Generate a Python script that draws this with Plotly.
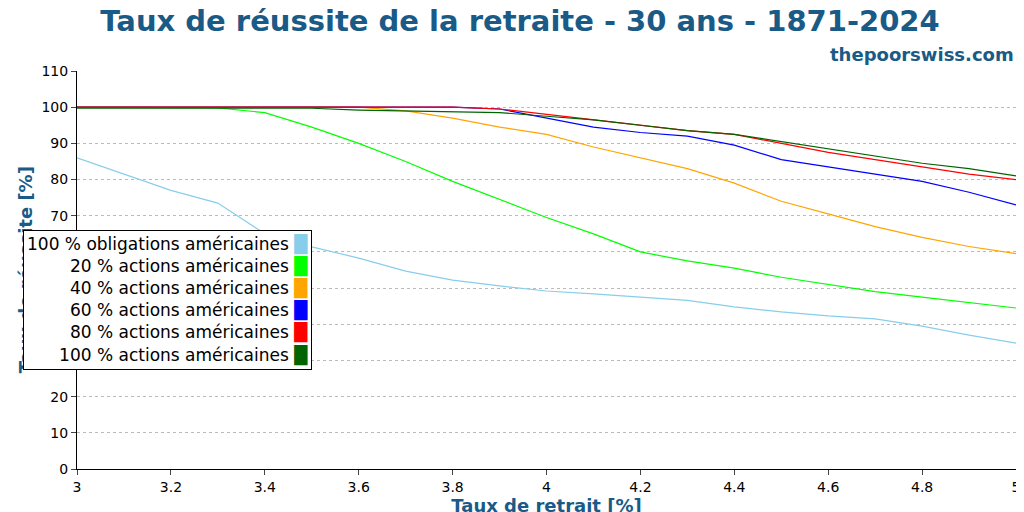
import plotly.graph_objects as go

# Withdrawal rates [%]
rates = [3.0, 3.1, 3.2, 3.3, 3.4, 3.5, 3.6, 3.7, 3.8, 3.9, 4.0,
         4.1, 4.2, 4.3, 4.4, 4.5, 4.6, 4.7, 4.8, 4.9, 5.0]
x_ticks = [3, 3.2, 3.4, 3.6, 3.8, 4, 4.2, 4.4, 4.6, 4.8, 5]
x_tick_text = ["3", "3.2", "3.4", "3.6", "3.8", "4", "4.2", "4.4", "4.6", "4.8", "5"]

# Success rates [%] per allocation
bonds100 = [86, 81.5, 77, 73.5, 65, 61.4, 58.3, 54.7, 52.2, 50.6, 49.2,
            48.4, 47.5, 46.6, 44.8, 43.4, 42.3, 41.5, 39.5, 37, 34.8]
stocks20 = [100, 100, 100, 99.8, 98.5, 94.5, 90, 85, 79.5, 74.5, 69.5,
            65, 60, 57.5, 55.5, 53, 51, 49, 47.5, 46, 44.5]
stocks40 = [100, 100, 100, 100, 100, 100, 100, 99, 97, 94.5, 92.5,
            89, 86, 83, 79, 74, 70.5, 67, 64, 61.5, 59.5]
stocks60 = [100, 100, 100, 100, 100, 100, 100, 100, 100, 99.5, 97,
            94.5, 93, 92, 89.5, 85.5, 83.5, 81.5, 79.5, 76.5, 73]
stocks80 = [100, 100, 100, 100, 100, 100, 100, 100, 100, 99.5, 98,
            96.5, 95, 93.5, 92.5, 90, 87.5, 85.5, 83.5, 81.5, 80]
stocks100 = [99.7, 99.7, 99.7, 99.7, 99.7, 99.7, 99.2, 99, 98.8, 98.5, 97.5,
             96.5, 95, 93.5, 92.5, 90.5, 88.5, 86.5, 84.5, 83, 81]

names = ["100 % obligations américaines", "20 % actions américaines",
         "40 % actions américaines", "60 % actions américaines",
         "80 % actions américaines", "100 % actions américaines"]
series = [bonds100, stocks20, stocks40, stocks60, stocks80, stocks100]
colors = ["skyblue", "lime", "orange", "blue", "red", "darkgreen"]

blue_title = "#1a5a86"

fig = go.Figure()
for name, vals, col in zip(names, series, colors):
    fig.add_trace(go.Scatter(x=rates, y=vals, mode="lines", name=name,
                             line=dict(color=col, width=1.2)))

fig.update_layout(
    width=1024, height=512,
    margin=dict(l=69, r=16, t=63, b=51),
    paper_bgcolor="white", plot_bgcolor="white",
    showlegend=False,
    font=dict(family="DejaVu Sans", color="black", size=14),
    title=dict(text="<b>Taux de réussite de la retraite - 30 ans - 1871-2024</b>",
               x=0.5, xanchor="center", y=0.995, yanchor="top",
               font=dict(size=29, color=blue_title)),
    xaxis=dict(range=[3, 5], tickvals=x_ticks, ticktext=x_tick_text,
               showgrid=False, automargin=False,
               showline=True, linecolor="black", ticks="outside", ticklen=5,
               zeroline=False,
               title=dict(text="<b>Taux de retrait [%]</b>", standoff=4,
                          font=dict(size=18, color=blue_title))),
    yaxis=dict(range=[0, 110], dtick=10, showgrid=True, gridcolor="#bbbbbb",
               griddash="dot", showline=True, linecolor="black", mirror=True,
               automargin=False,
               ticks="outside", ticklen=5, zeroline=False),
)

fig.add_annotation(text="<b>thepoorswiss.com</b>", xref="paper", yref="paper",
                   x=1.0, y=1.0, xanchor="right", yanchor="bottom", yshift=4,
                   showarrow=False, font=dict(size=18, color=blue_title))

# y title drawn first so the legend box covers it
fig.add_annotation(text="<b>Taux de réussite [%]</b>", xref="paper", yref="paper",
                   x=-0.055, y=0.5, textangle=-90, showarrow=False,
                   xanchor="center", yanchor="middle",
                   font=dict(size=18, color=blue_title))

# legend box with swatches on the right
legend_lines = []
for name, col in zip(names, colors):
    legend_lines.append(f"{name} <span style='color:{col}'>█</span>")
fig.add_annotation(text="<br>".join(legend_lines), xref="paper", yref="paper",
                   x=0.2503, y=0.6005, xanchor="right", yanchor="top",
                   align="right", showarrow=False, bgcolor="white",
                   bordercolor="black", borderwidth=1, borderpad=3,
                   font=dict(size=17, color="black"))

fig.write_html("out.html")
